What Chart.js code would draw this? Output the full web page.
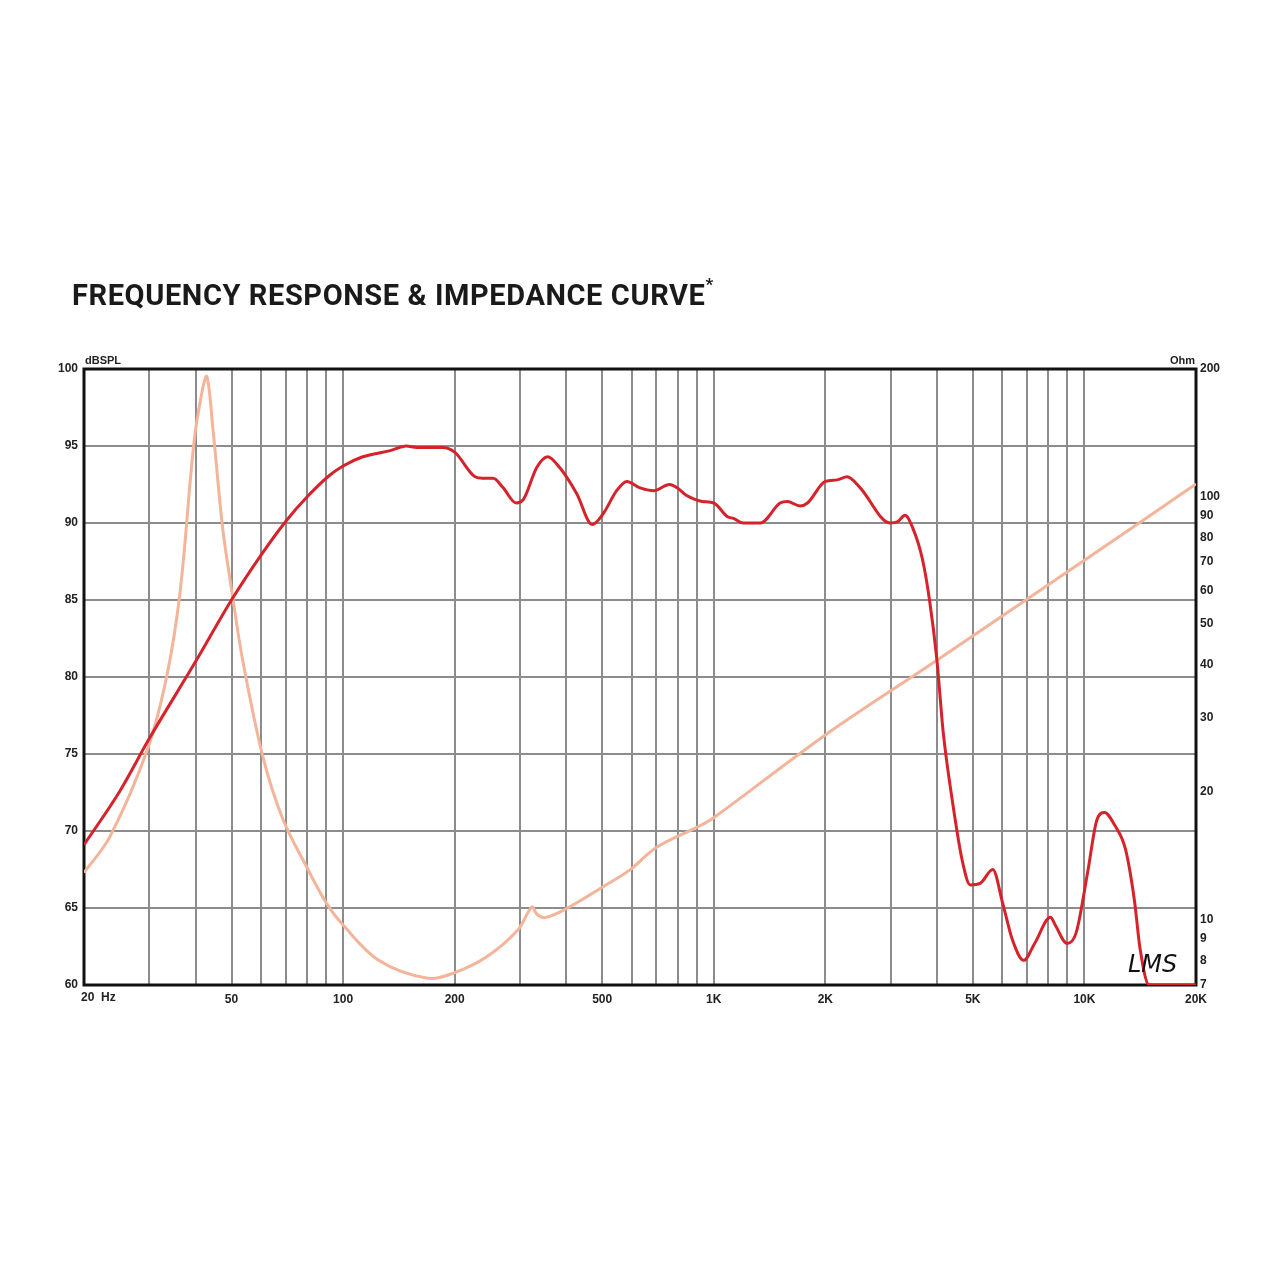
<!DOCTYPE html>
<html>
<head>
<meta charset="utf-8">
<script src="https://cdn.jsdelivr.net/npm/chart.js@4/dist/chart.umd.min.js"></script>
<style>
    body { margin: 0; background: #fff; }
    .wrap { position: relative; width: 1280px; height: 1280px; }
    .title {
        position: absolute; left: 72px; top: 278px;
        font: bold 29px 'Roboto', 'Liberation Sans', sans-serif;
        letter-spacing: 0.6px;
        color: #1a1a1a; white-space: nowrap;
    }
    .title sup { font-size: 17px; position: relative; top: -4px; }
    canvas { position: absolute; left: 0; top: 0; }
</style>
</head>
<body>
<div class="wrap">
    <canvas id="fr" width="1280" height="1280"></canvas>
    <div class="title">FREQUENCY RESPONSE &amp; IMPEDANCE CURVE<sup>*</sup></div>
</div>
<script>
/* frequency response (dB SPL) */
const splFreq = [20, 25, 30, 40, 50, 60, 70, 80, 92, 100, 113, 134, 148, 158, 185, 200, 227, 238, 254, 270, 293, 306, 333, 356, 384, 427, 470, 503, 547, 583, 630, 690, 760, 795, 843, 930, 1000, 1090, 1130, 1200, 1335, 1510, 1580, 1710, 1790, 2000, 2150, 2290, 2480, 2990, 3140, 3280, 3440, 3660, 3820, 4000, 4160, 4400, 4680, 4920, 5230, 5660, 6020, 6400, 6860, 7340, 8100, 8340, 8980, 9500, 10200, 10800, 11330, 12050, 12910, 13640, 14140, 14950, 20000];
const splDb = [69.1, 72.6, 76.0, 81.0, 85.0, 87.9, 90.1, 91.7, 93.1, 93.7, 94.3, 94.7, 95.0, 94.9, 94.9, 94.6, 93.0, 92.9, 92.9, 92.3, 91.3, 91.5, 93.6, 94.3, 93.6, 91.9, 89.9, 90.6, 92.1, 92.7, 92.3, 92.1, 92.5, 92.3, 91.8, 91.4, 91.3, 90.4, 90.3, 90.0, 90.0, 91.3, 91.4, 91.1, 91.3, 92.7, 92.8, 93.0, 92.3, 90.0, 90.1, 90.5, 89.7, 87.6, 85.0, 81.1, 76.4, 72.0, 68.1, 66.5, 66.6, 67.5, 65.3, 62.9, 61.6, 62.7, 64.4, 63.9, 62.7, 63.4, 67.3, 70.7, 71.2, 70.4, 68.8, 65.5, 62.3, 60.0, 60.0];

/* impedance (Ohm) */
const impFreq = [20, 23.5, 29.6, 33.4, 36.3, 39.6, 41.6, 42.9, 44.5, 47.3, 50.2, 53.6, 60.8, 68.9, 79.8, 90.3, 100, 125, 168, 198, 244, 296, 323, 333, 350, 400, 499, 594, 700, 899, 1000, 2000, 4000, 10000, 20000];
const impOhm = [12.9, 15.7, 25.1, 37.4, 59.1, 134, 176, 192, 146, 84.6, 59.0, 41.0, 24.2, 17.2, 13.3, 10.9, 9.7, 8.0, 7.27, 7.46, 8.16, 9.44, 10.7, 10.3, 10.1, 10.6, 11.9, 13.1, 14.8, 16.5, 17.4, 27.3, 41.0, 70.6, 107];

/* axes */
const gridFreqs = [20, 30, 40, 50, 60, 70, 80, 90, 100, 200, 300, 400, 500, 600, 700, 800, 900, 1000, 2000, 3000, 4000, 5000, 6000, 7000, 8000, 9000, 10000, 20000];
const freqLabels = { 50: '50', 100: '100', 200: '200', 500: '500', 1000: '1K', 2000: '2K', 5000: '5K', 10000: '10K', 20000: '20K' };
const ohmTicks = [7, 8, 9, 10, 20, 30, 40, 50, 60, 70, 80, 90, 100, 200];

function pts(xs, ys) {
    return xs.map(function(x, i) { return { x: x, y: ys[i] }; });
}

const tickFont = { family: "'Liberation Sans', Arial, sans-serif", size: 12, weight: 'bold' };

// frame + loose labels
const extras = {
    id: 'extras',
    beforeDatasetsDraw: function(chart) {
        const a = chart.chartArea;
        const c = chart.ctx;
        c.save();
        c.strokeStyle = '#111';
        c.lineWidth = 3;
        c.strokeRect(a.left, a.top, a.right - a.left, a.bottom - a.top);
        c.restore();
    },
    afterDraw: function(chart) {
        const a = chart.chartArea;
        const c = chart.ctx;
        const x20 = chart.scales.x.getPixelForValue(20);
        c.save();
        c.fillStyle = '#222';
        c.font = "bold 11px 'Liberation Sans', Arial, sans-serif";
        c.textBaseline = 'bottom';
        c.textAlign = 'left';
        c.fillText('dBSPL', a.left + 1, a.top - 3);
        c.textAlign = 'right';
        c.fillText('Ohm', a.right - 1, a.top - 3);
        c.font = "bold 12px 'Liberation Sans', Arial, sans-serif";
        c.textAlign = 'left';
        c.textBaseline = 'middle';
        c.fillText('20  Hz', x20 - 3, a.bottom + 13);
        c.font = "italic 24px 'DejaVu Sans', sans-serif";
        c.fillStyle = '#111';
        c.textBaseline = 'alphabetic';
        c.fillText('LMS', 1128, 972);
        c.restore();
    }
};

const ctx = document.getElementById('fr').getContext('2d');
const chart = new Chart(ctx, {
    type: 'line',
    data: {
        datasets: [{
            label: 'SPL',
            data: pts(splFreq, splDb),
            borderColor: '#d5222b',
            borderWidth: 3,
            pointRadius: 0,
            cubicInterpolationMode: 'monotone',
            yAxisID: 'y',
            order: 1
        }, {
            label: 'Impedance',
            data: pts(impFreq, impOhm),
            borderColor: '#f4b49a',
            borderWidth: 3,
            pointRadius: 0,
            tension: 0.35,
            yAxisID: 'y2',
            order: 2
        }]
    },
    options: {
        responsive: false,
        animation: false,
        layout: {
            padding: { left: 0, right: 0, top: 369, bottom: 255 }
        },
        plugins: {
            legend: { display: false },
            tooltip: { enabled: false }
        },
        scales: {
            x: {
                type: 'logarithmic',
                min: 20,
                max: 20000,
                afterBuildTicks: function(s) {
                    s.ticks = gridFreqs.map(function(v) { return { value: v }; });
                },
                afterFit: function(s) { s.height = 40; },
                grid: { color: '#8c8c8c', lineWidth: 2, drawTicks: false },
                border: { display: false },
                ticks: {
                    autoSkip: false,
                    maxRotation: 0,
                    padding: 7,
                    color: '#222',
                    font: tickFont,
                    callback: function(v) { return freqLabels[v] || ''; }
                }
            },
            y: {
                position: 'left',
                min: 60,
                max: 100,
                afterFit: function(s) { s.width = 84; },
                grid: { color: '#8c8c8c', lineWidth: 2, drawTicks: false },
                border: { display: false },
                ticks: {
                    stepSize: 5,
                    padding: 6,
                    color: '#222',
                    font: tickFont
                }
            },
            y2: {
                type: 'logarithmic',
                position: 'right',
                min: 7,
                max: 200,
                afterBuildTicks: function(s) {
                    s.ticks = ohmTicks.map(function(v) { return { value: v }; });
                },
                afterFit: function(s) { s.width = 84; },
                grid: { display: false, drawTicks: false },
                border: { display: false },
                ticks: {
                    padding: 4,
                    color: '#222',
                    font: tickFont,
                    callback: function(v) { return String(v); }
                }
            }
        }
    },
    plugins: [extras]
});
</script>
</body>
</html>
